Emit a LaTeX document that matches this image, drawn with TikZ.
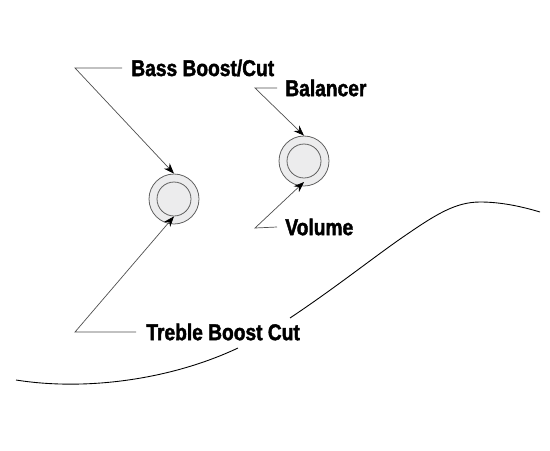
\documentclass[tikz,border=0pt]{standalone}
\usepackage{fontspec}
\setmainfont{Liberation Sans}
\newfontfamily\labelfont[FakeStretch=0.84,FakeBold=1.8]{Liberation Sans Bold}
\usetikzlibrary{arrows.meta,positioning}
\definecolor{knobgray}{RGB}{236,236,237}
\definecolor{ringgray}{RGB}{95,95,95}
\definecolor{leadgray}{RGB}{80,80,80}
\tikzset{
  knobouter/.style={draw=ringgray, fill=knobgray, circle, line width=0.45pt, inner sep=0pt, minimum size=1cm},
  knobinner/.style={draw=ringgray, fill=knobgray, circle, line width=0.45pt, inner sep=0pt, minimum size=0.68cm},
  knoblabel/.style={font=\labelfont\fontsize{13}{15}\selectfont, inner sep=0pt, anchor=west},
  lead/.style={draw=leadgray, line width=0.4pt, -{Stealth[length=6pt,width=4.5pt,black]}},
}
\begin{document}
\begin{tikzpicture}[>=Stealth, x=0.02cm, y=-0.02cm]
        \useasboundingbox (0,0) rectangle (550,450);
        % body edge
        \draw[line width=0.5pt] (16,380) .. controls (85,391) and (170,380) .. (238,348);
        \draw[line width=0.5pt] (290,318) .. controls (335,288) and (374,257) .. (403,237) .. controls (435,215) and (455,202) .. (480,202) .. controls (500,202) and (520,206) .. (540,212);
        % knobs
        \node[knobouter] (bassouter) at (174,199) {};
        \node[knobinner] (bassinner) at (174,199) {};
        \node[knobouter] (balouter) at (304,161) {};
        \node[knobinner] (balinner) at (304,161) {};
        % labels
        \node[knoblabel] (bass) at (131,68) {Bass Boost/Cut};
        \node[knoblabel] (balancer) at (285,88) {Balancer};
        \node[knoblabel] (volume) at (285,227) {Volume};
        \node[knoblabel] (treble) at (146,332) {Treble Boost Cut};
        % leaders
        \coordinate (basscorner) at (75,68);
        \coordinate (balcorner) at (255,88);
        \coordinate (volcorner) at (255,228);
        \coordinate (voltip) at (304,182);
        \coordinate (treblecorner) at (75,332);
        \draw[lead] (bass.west) ++(-9,0) -- (basscorner) -- (bassouter.north);
        \draw[lead] (balancer.west) ++(-8,0) -- (balcorner) -- (balouter.north);
        \draw[lead] (volume.west) ++(-8,0) -- (volcorner) -- (voltip);
        \draw[lead] (treble.west) ++(-10,0) -- (treblecorner) -- (bassinner.south);
      \end{tikzpicture}
\end{document}
